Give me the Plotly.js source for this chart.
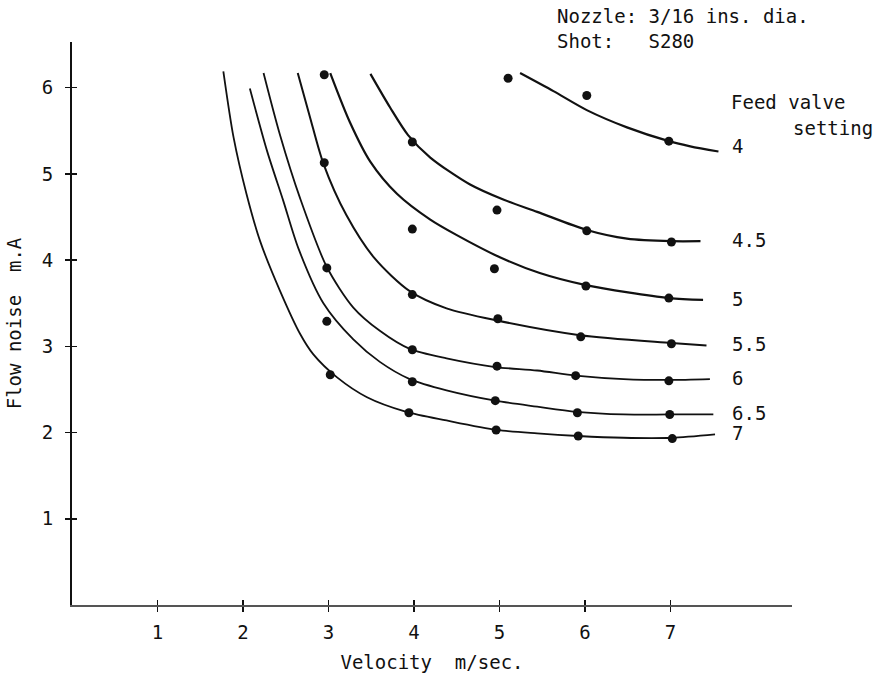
<!DOCTYPE html>
<html>
<head>
<meta charset="utf-8">
<script src="https://cdn.plot.ly/plotly-3.0.1.min.js"></script>
<style>html,body{margin:0;padding:0;background:#fff;}#chart{width:892px;height:678px;}</style>
</head>
<body>
<div id="chart"></div>
<script>
// Feed valve settings (curve labels)
const settings = ["4", "4.5", "5", "5.5", "6", "6.5", "7"];

// Fitted curves (velocity m/sec, flow noise mA)
const curve4_x  = [5.24, 5.63, 6.02, 6.49, 6.98, 7.23, 7.56];
const curve4_y  = [6.17, 5.96, 5.74, 5.54, 5.38, 5.32, 5.26];
const curve45_x = [3.49, 3.72, 3.93, 4.19, 4.65, 5.05, 5.44, 6.02, 6.49, 7.01, 7.35];
const curve45_y = [6.16, 5.77, 5.45, 5.19, 4.88, 4.70, 4.56, 4.35, 4.25, 4.22, 4.22];
const curve5_x  = [3.02, 3.25, 3.49, 3.80, 4.19, 4.50, 5.01, 5.47, 6.01, 6.98, 7.38];
const curve5_y  = [6.17, 5.60, 5.14, 4.77, 4.47, 4.29, 4.03, 3.85, 3.71, 3.56, 3.54];
const curve55_x = [2.64, 2.78, 2.94, 3.21, 3.54, 3.95, 4.38, 4.97, 5.94, 7.01, 7.42];
const curve55_y = [6.17, 5.67, 5.12, 4.52, 4.02, 3.64, 3.44, 3.30, 3.13, 3.04, 3.01];
const curve6_x  = [2.24, 2.43, 2.67, 2.98, 3.29, 3.60, 3.95, 4.38, 4.95, 5.44, 5.89, 6.45, 6.99, 7.46];
const curve6_y  = [6.17, 5.46, 4.71, 3.92, 3.45, 3.18, 2.97, 2.86, 2.76, 2.72, 2.66, 2.62, 2.61, 2.62];
const curve65_x = [2.08, 2.28, 2.47, 2.65, 2.94, 3.29, 3.60, 3.95, 4.38, 4.95, 5.44, 5.90, 6.45, 6.99, 7.50];
const curve65_y = [5.99, 5.27, 4.69, 4.13, 3.50, 3.08, 2.82, 2.62, 2.49, 2.37, 2.30, 2.24, 2.21, 2.21, 2.21];
const curve7_x  = [1.77, 1.89, 2.04, 2.20, 2.43, 2.67, 2.82, 3.10, 3.45, 3.91, 4.38, 4.97, 5.44, 5.92, 6.45, 7.01, 7.52];
const curve7_y  = [6.19, 5.42, 4.77, 4.22, 3.65, 3.14, 2.91, 2.64, 2.41, 2.24, 2.14, 2.03, 1.99, 1.96, 1.94, 1.94, 1.98];

// Measured points
const points_x = [2.95, 2.95, 2.98, 2.98, 3.02,
                  3.98, 3.98, 3.98, 3.98, 3.98, 3.94,
                  5.10, 4.97, 4.94, 4.98, 4.97, 4.95, 4.96,
                  6.02, 6.02, 6.01, 5.95, 5.89, 5.91, 5.92,
                  6.98, 7.01, 6.98, 7.01, 6.98, 6.99, 7.02];
const points_y = [6.15, 5.13, 3.91, 3.29, 2.67,
                  5.37, 4.36, 3.60, 2.96, 2.59, 2.23,
                  6.11, 4.58, 3.90, 3.32, 2.77, 2.37, 2.03,
                  5.91, 4.34, 3.70, 3.11, 2.66, 2.23, 1.96,
                  5.38, 4.21, 3.56, 3.03, 2.60, 2.21, 1.93];

const xTicks = [1, 2, 3, 4, 5, 6, 7];
const yTicks = [1, 2, 3, 4, 5, 6];

const curvesX = [curve4_x, curve45_x, curve5_x, curve55_x, curve6_x, curve65_x, curve7_x];
const curvesY = [curve4_y, curve45_y, curve5_y, curve55_y, curve6_y, curve65_y, curve7_y];
const lineWidths = [2.2, 2.2, 2.2, 2.0, 1.8, 1.8, 1.8];

const FONT = "DejaVu Sans Mono, Liberation Mono, monospace";
const INK = "#111";
const FS = 19;

const traces = curvesX.map((xs, i) => ({
  x: xs, y: curvesY[i], type: "scatter", mode: "lines",
  line: {color: INK, width: lineWidths[i], shape: "spline", smoothing: 0.8},
  hoverinfo: "skip", showlegend: false
}));
traces.push({
  x: points_x, y: points_y, type: "scatter", mode: "markers",
  marker: {color: INK, size: 9, symbol: "circle"},
  showlegend: false
});
traces.push({x: [], y: [], xaxis: "x2", yaxis: "y2", type: "scatter", showlegend: false});

const annotations = settings.map((s, i) => {
  const ys = curvesY[i];
  return {
    x: 7.7, y: ys[ys.length - 1], xref: "x", yref: "y",
    text: s, showarrow: false, xanchor: "left", yanchor: "middle",
    yshift: (i === 0 ? 6 : 1),
    font: {family: FONT, size: FS, color: INK}
  };
});
// paper-coordinate helpers (plot area: x 72..792, y 42..605 px)
const px2paperX = p => (p - 72) / 720;
const px2paperY = p => (605 - p) / 563;
annotations.push({
  x: px2paperX(729), y: px2paperY(102), xref: "paper", yref: "paper",
  text: "Feed valve", showarrow: false,
  xanchor: "left", yanchor: "middle", align: "left",
  font: {family: FONT, size: FS, color: INK}
});
annotations.push({
  x: px2paperX(791), y: px2paperY(128), xref: "paper", yref: "paper",
  text: "setting", showarrow: false,
  xanchor: "left", yanchor: "middle", align: "left",
  font: {family: FONT, size: FS, color: INK}
});
annotations.push({
  x: px2paperX(555), y: px2paperY(3), xref: "paper", yref: "paper",
  text: "Nozzle: 3/16 ins. dia.<br>Shot:\u00a0\u00a0\u00a0S280", showarrow: false,
  xanchor: "left", yanchor: "top", align: "left",
  font: {family: FONT, size: FS, color: INK}
});

const layout = {
  width: 892, height: 678,
  margin: {l: 72, r: 100, t: 42, b: 73},
  paper_bgcolor: "#fff", plot_bgcolor: "#fff",
  font: {family: FONT, size: FS, color: INK},
  showlegend: false,
  xaxis: {
    range: [0, 8.42], showgrid: false, zeroline: false,
    showline: true, linecolor: "#555", linewidth: 1.5,
    ticks: "outside", ticklen: 5, tickwidth: 1.5, tickcolor: INK,
    tickmode: "array", tickvals: xTicks, ticktext: xTicks.map(String),
    tickfont: {family: FONT, size: FS, color: INK},
    ticklabelstandoff: 5,
    title: {text: "Velocity\u00a0\u00a0m/sec.", standoff: 13, font: {family: FONT, size: FS, color: INK}}
  },
  xaxis2: {
    range: [0, 8.42], overlaying: "x", anchor: "y", side: "bottom",
    showgrid: false, zeroline: false, showline: false,
    ticks: "inside", ticklen: 5, tickwidth: 1.5, tickcolor: INK,
    tickmode: "array", tickvals: xTicks, showticklabels: false
  },
  yaxis: {
    range: [0, 6.53], showgrid: false, zeroline: false,
    showline: true, linecolor: INK, linewidth: 2,
    ticks: "outside", ticklen: 5, tickwidth: 1.5, tickcolor: INK,
    tickmode: "array", tickvals: yTicks, ticktext: yTicks.map(String),
    tickfont: {family: FONT, size: FS, color: INK},
    ticklabelstandoff: 8,
    title: {text: "Flow noise\u00a0\u00a0m.A", standoff: 15, font: {family: FONT, size: FS, color: INK}}
  },
  yaxis2: {
    range: [0, 6.53], overlaying: "y", anchor: "x", side: "left",
    showgrid: false, zeroline: false, showline: false,
    ticks: "inside", ticklen: 5, tickwidth: 1.5, tickcolor: INK,
    tickmode: "array", tickvals: yTicks, showticklabels: false
  },
  annotations: annotations
};

Plotly.newPlot("chart", traces, layout, {displayModeBar: false, staticPlot: true});
</script>
</body>
</html>
